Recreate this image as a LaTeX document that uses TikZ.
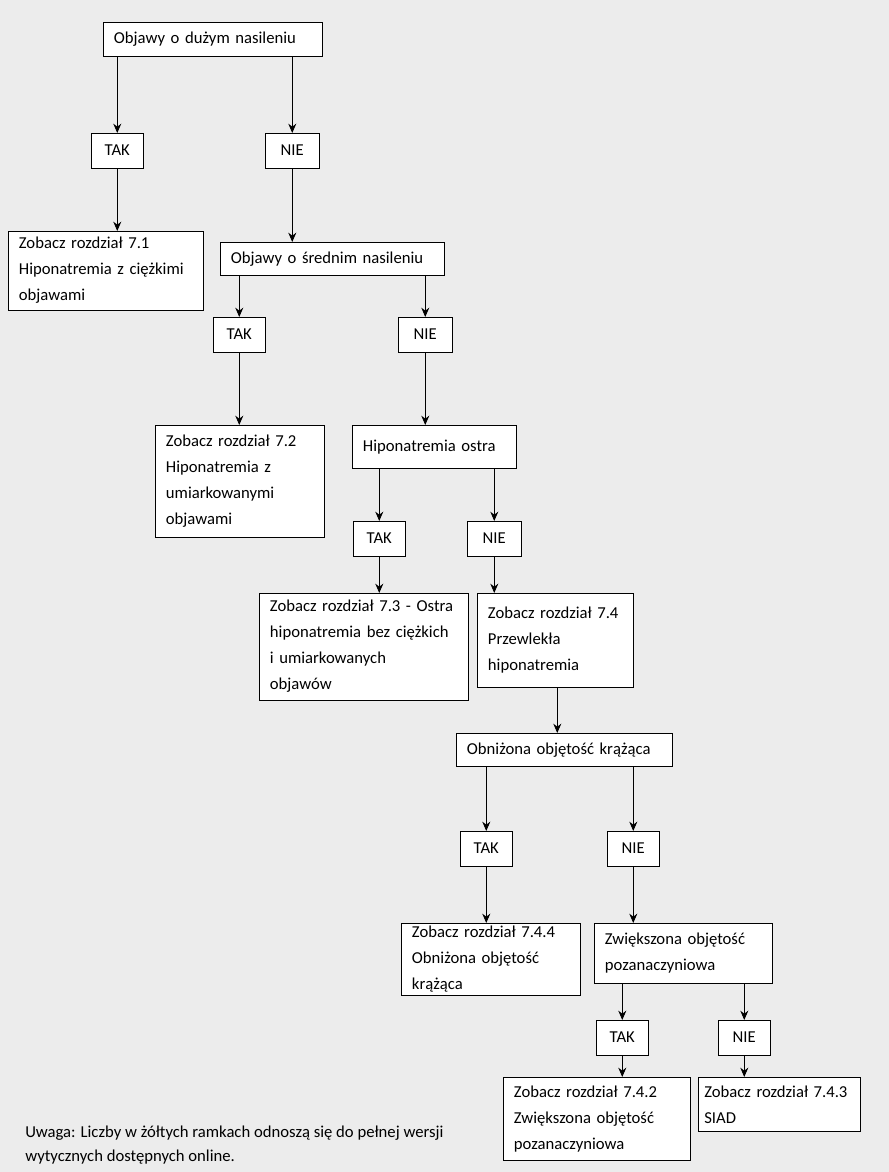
\documentclass[tikz,border=0pt]{standalone}
\usepackage{fontspec}
\setmainfont{Carlito}
\usetikzlibrary{arrows.meta}
\definecolor{bgpage}{RGB}{236,236,236}
\tikzset{
  box/.style={draw=black, fill=white, anchor=north west, align=left, inner xsep=8pt, inner ysep=2pt,
              font=\fontsize{12.5}{19.5}\selectfont},
  yesno/.style={draw=black, fill=white, anchor=north west, align=center, inner sep=0pt,
              minimum width=39pt, minimum height=26pt, font=\fontsize{12.5}{14}\selectfont},
  arr/.style={-{Stealth[length=7pt,width=6pt]}, semithick}
}
\begin{document}
\begin{tikzpicture}[x=0.75pt,y=-0.75pt]
  \fill[bgpage] (0,0) rectangle (889,1172);
  \useasboundingbox (0,0) rectangle (889,1172);

  % level 1
  \node[box, text width=148pt, minimum height=25.5pt] (ciezkie) at (103,22) {Objawy o dużym nasileniu};
  \node[yesno] (tak1) at (91,133) {TAK};
  \node[yesno, minimum width=40.5pt] (nie1) at (265,133) {NIE};
  \node[box, text width=130pt, minimum height=59pt] (r71) at (8,231) {Zobacz rozdział 7.1\\Hiponatremia z ciężkimi\\objawami};

  % level 2
  \node[box, text width=152pt, minimum height=25pt] (srednie) at (220,242) {Objawy o średnim nasileniu};
  \node[yesno] (tak2) at (213,317) {TAK};
  \node[yesno, minimum width=40.5pt] (nie2) at (398,317) {NIE};
  \node[box, text width=111pt, minimum height=84pt] (r72) at (155,425) {Zobacz rozdział 7.2\\Hiponatremia z\\umiarkowanymi\\objawami};

  % level 3
  \node[box, text width=107pt, minimum height=32pt] (ostra) at (352,425) {Hiponatremia ostra};
  \node[yesno] (tak3) at (353,521) {TAK};
  \node[yesno, minimum width=40.5pt] (nie3) at (467,521) {NIE};
  \node[box, text width=141pt, minimum height=80pt] (r73) at (259,593) {Zobacz rozdział 7.3 - Ostra\\hiponatremia bez ciężkich\\i umiarkowanych\\objawów};
  \node[box, text width=101pt, minimum height=70.5pt] (r74) at (477,593) {Zobacz rozdział 7.4\\Przewlekła\\hiponatremia};

  % level 4
  \node[box, text width=146pt, minimum height=25pt] (obnizona) at (456,733) {Obniżona objętość krążąca};
  \node[yesno] (tak4) at (460,831) {TAK};
  \node[yesno] (nie4) at (607,831) {NIE};
  \node[box, text width=118pt, minimum height=54pt] (r744) at (401,923) {Zobacz rozdział 7.4.4\\Obniżona objętość\\krążąca};
  \node[box, text width=117.5pt, minimum height=45pt] (zwiekszona) at (594,923) {Zwiększona objętość\\pozanaczyniowa};

  % level 5
  \node[yesno] (tak5) at (596,1020) {TAK};
  \node[yesno] (nie5) at (718,1020) {NIE};
  \node[box, text width=124pt, minimum height=62pt] (r742) at (503,1077) {Zobacz rozdział 7.4.2\\Zwiększona objętość\\pozanaczyniowa};
  \node[box, inner xsep=4.5pt, text width=112.5pt, minimum height=40.5pt] (r743) at (698,1077) {Zobacz rozdział 7.4.3\\SIAD};

  \node[anchor=north west, align=left, inner sep=0pt, font=\fontsize{12.5}{18}\selectfont] (uwaga) at (25,1126)
    {Uwaga: Liczby w żółtych ramkach odnoszą się do pełnej wersji\\wytycznych dostępnych online.};

  % connectors
  \draw[arr] (ciezkie.south -| tak1.north) -- (tak1.north);
  \draw[arr] (ciezkie.south -| nie1.north) -- (nie1.north);
  \draw[arr] (tak1.south) -- (r71.north -| tak1.south);
  \draw[arr] (nie1.south) -- (srednie.north -| nie1.south);
  \draw[arr] (srednie.south -| tak2.north) -- (tak2.north);
  \draw[arr] (srednie.south -| nie2.north) -- (nie2.north);
  \draw[arr] (tak2.south) -- (r72.north -| tak2.south);
  \draw[arr] (nie2.south) -- (ostra.north -| nie2.south);
  \draw[arr] (ostra.south -| tak3.north) -- (tak3.north);
  \draw[arr] (ostra.south -| nie3.north) -- (nie3.north);
  \draw[arr] (tak3.south) -- (r73.north -| tak3.south);
  \draw[arr] (nie3.south) -- (r74.north -| nie3.south);
  \draw[arr] ([xshift=1.5pt]r74.south) -- ([xshift=1.5pt]r74.south |- obnizona.north);
  \draw[arr] (obnizona.south -| tak4.north) -- (tak4.north);
  \draw[arr] (obnizona.south -| nie4.north) -- (nie4.north);
  \draw[arr] (tak4.south) -- (r744.north -| tak4.south);
  \draw[arr] (nie4.south) -- (zwiekszona.north -| nie4.south);
  \draw[arr] (zwiekszona.south -| tak5.north) -- (tak5.north);
  \draw[arr] (zwiekszona.south -| nie5.north) -- (nie5.north);
  \draw[arr] (tak5.south) -- (r742.north -| tak5.south);
  \draw[arr] (nie5.south) -- (r743.north -| nie5.south);
\end{tikzpicture}
\end{document}
